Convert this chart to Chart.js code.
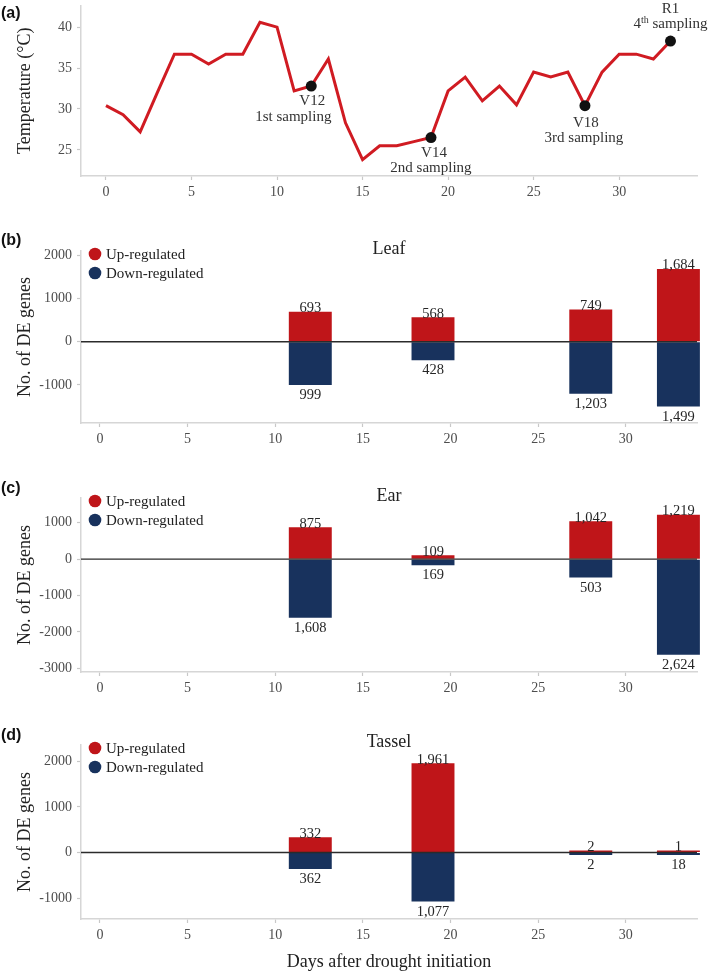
<!DOCTYPE html>
<html>
<head>
<meta charset="utf-8">
<title>Temperature and DE genes after drought initiation</title>
<script src="https://cdn.jsdelivr.net/npm/chart.js@4.4.1/dist/chart.umd.min.js"></script>
<style>
  html, body { margin: 0; padding: 0; background: #fff; }
  body { position: relative; width: 709px; height: 973px; overflow: hidden; }
  canvas { position: absolute; left: 0; }
  .tag { position: absolute; left: 1px; font: bold 16px "Liberation Sans", Arial, sans-serif; color: #111; line-height: 18px; }
</style>
</head>
<body>
<canvas id="tempChart" width="709" height="202" style="top:0px"></canvas>
<canvas id="leafChart" width="709" height="232" style="top:228px"></canvas>
<canvas id="earChart" width="709" height="240" style="top:460px"></canvas>
<canvas id="tasselChart" width="709" height="273" style="top:700px"></canvas>
<div class="tag" style="top:4px">(a)</div>
<div class="tag" style="top:231px">(b)</div>
<div class="tag" style="top:479px">(c)</div>
<div class="tag" style="top:726px">(d)</div>

<script>
// données
var days = [0, 1, 2, 3, 4, 5, 6, 7, 8, 9, 10, 11, 12, 13, 14, 15, 16, 17, 18, 19, 20, 21, 22, 23, 24, 25, 26, 27, 28, 29, 30, 31, 32, 33];
var temperature = [30.4, 29.3, 27.2, 32.0, 36.7, 36.7, 35.5, 36.7, 36.7, 40.6, 40.0, 32.2, 32.8, 36.1, 28.3, 23.8, 25.5, 25.5, 26.0, 26.5, 32.2, 33.9, 31.0, 32.8, 30.5, 34.5, 33.9, 34.5, 30.4, 34.5, 36.7, 36.7, 36.1, 38.3];
var samplingDays = [12, 19, 28, 33];
var stageNames = ['V12', 'V14', 'V18', 'R1'];
var samplingNames = ['1st sampling', '2nd sampling', '3rd sampling', '4th sampling'];

var seriesNames = ['Up-regulated', 'Down-regulated'];
var leafUp = [693, 568, 749, 1684];
var leafDown = [999, 428, 1203, 1499];
var earUp = [875, 109, 1042, 1219];
var earDown = [1608, 169, 503, 2624];
var tasselUp = [332, 1961, 2, 1];
var tasselDown = [362, 1077, 2, 18];

var dayTicks = [0, 5, 10, 15, 20, 25, 30];
var tempTicks = [25, 30, 35, 40];
var leafTicks = [-1000, 0, 1000, 2000];
var earTicks = [-3000, -2000, -1000, 0, 1000];
var tasselTicks = [-1000, 0, 1000, 2000];

// styles
var RED_LINE = '#d01b22';
var RED = '#bf1519';
var NAVY = '#18325d';
var AXIS = '#d6d6d6';
var SERIF = '"Liberation Serif", "Times New Roman", serif';

// position des étiquettes de prélèvement (décalages en px autour du point)
var sampleLabelOffsets = [
  {dx1: 1, dy1: 15, dx2: -18, dy2: 31},
  {dx1: 3, dy1: 15, dx2: 0, dy2: 30},
  {dx1: 1, dy1: 17, dx2: -1, dy2: 32},
  {dx1: 0, dy1: -32, dx2: 0, dy2: -17, sup: true}
];

Chart.defaults.font.family = SERIF;
Chart.defaults.color = '#333';

function xAxis(min, max, height, title, stacked) {
  return {
    type: 'linear',
    min: min,
    max: max,
    stacked: stacked,
    offset: false,
    afterBuildTicks: function (s) { s.ticks = dayTicks.map(function (v) { return {value: v}; }); },
    afterFit: function (s) { s.height = height; s.paddingLeft = 0; s.paddingRight = 0; },
    border: {display: true, color: AXIS, width: 1.5},
    grid: {offset: false, drawOnChartArea: false, drawTicks: true, tickLength: 4, tickColor: '#c8c8c8', tickWidth: 1.2},
    ticks: {font: {size: 14}, color: '#4d4d4d', padding: 4, maxRotation: 0, autoSkip: false},
    title: {display: !!title, text: title || '', font: {size: 18}, color: '#222', padding: {top: 0, bottom: 0}}
  };
}

function yAxis(min, max, tickValues, title, stacked) {
  return {
    min: min,
    max: max,
    stacked: stacked,
    afterBuildTicks: function (s) { s.ticks = tickValues.map(function (v) { return {value: v}; }); },
    afterFit: function (s) { s.width = 81; s.paddingTop = 0; s.paddingBottom = 0; },
    border: {display: true, color: AXIS, width: 1.5},
    grid: {drawOnChartArea: false, drawTicks: true, tickLength: 4, tickColor: '#c8c8c8', tickWidth: 1.2},
    ticks: {font: {size: 14}, color: '#4d4d4d', padding: 5, callback: function (v) { return String(v); }},
    title: {display: true, text: title, font: {size: 18}, color: '#222', padding: {top: 14, bottom: 0}}
  };
}

// étiquettes V12 / 1st sampling etc.
var samplingLabelPlugin = {
  id: 'samplingLabels',
  afterDatasetsDraw: function (chart) {
    var ctx = chart.ctx;
    var meta = chart.getDatasetMeta(1);
    ctx.save();
    ctx.fillStyle = '#333';
    ctx.textBaseline = 'middle';
    meta.data.forEach(function (pt, i) {
      var off = sampleLabelOffsets[i];
      ctx.font = '15px ' + SERIF;
      ctx.textAlign = 'center';
      ctx.fillText(stageNames[i], pt.x + off.dx1, pt.y + off.dy1);
      var cx = pt.x + off.dx2, cy = pt.y + off.dy2;
      var m = samplingNames[i].match(/^(\d+)(st|nd|rd|th)( .*)$/);
      if (off.sup && m) {
        ctx.font = '15px ' + SERIF;
        var w1 = ctx.measureText(m[1]).width;
        var w3 = ctx.measureText(m[3]).width;
        ctx.font = '10px ' + SERIF;
        var w2 = ctx.measureText(m[2]).width;
        var x0 = cx - (w1 + w2 + w3) / 2;
        ctx.textAlign = 'left';
        ctx.font = '15px ' + SERIF;
        ctx.fillText(m[1], x0, cy);
        ctx.font = '10px ' + SERIF;
        ctx.fillText(m[2], x0 + w1, cy - 4);
        ctx.font = '15px ' + SERIF;
        ctx.fillText(m[3], x0 + w1 + w2, cy);
      } else {
        ctx.fillText(samplingNames[i], cx, cy);
      }
    });
    ctx.restore();
  }
};

new Chart(document.getElementById('tempChart'), {
  type: 'line',
  data: {
    datasets: [{
      label: 'Temperature',
      data: days.map(function (d, i) { return {x: d, y: temperature[i]}; }),
      borderColor: RED_LINE,
      borderWidth: 3,
      pointRadius: 0,
      tension: 0,
      order: 2
    }, {
      label: 'Sampling',
      data: samplingDays.map(function (d) { return {x: d, y: temperature[days.indexOf(d)]}; }),
      showLine: false,
      pointRadius: 5.5,
      pointBackgroundColor: '#111',
      pointBorderColor: '#111',
      pointBorderWidth: 0,
      order: 1
    }]
  },
  options: {
    responsive: false,
    animation: false,
    events: [],
    layout: {padding: {top: 3, right: 12, left: 0, bottom: 0}},
    scales: {
      x: xAxis(-1.46, 34.55, 26, null, false),
      y: yAxis(21.8, 42.65, tempTicks, 'Temperature (°C)', false)
    },
    plugins: {legend: {display: false}, tooltip: {enabled: false}}
  },
  plugins: [samplingLabelPlugin]
});

// ligne du zéro, tracée par-dessus les barres
var zeroLinePlugin = {
  id: 'zeroLine',
  afterDatasetsDraw: function (chart) {
    var ctx = chart.ctx, a = chart.chartArea;
    var y = chart.scales.y.getPixelForValue(0);
    ctx.save();
    ctx.strokeStyle = '#2b2b2b';
    ctx.lineWidth = 1.4;
    ctx.beginPath();
    ctx.moveTo(a.left, y);
    ctx.lineTo(a.right, y);
    ctx.stroke();
    ctx.restore();
  }
};

// nombre de gènes au-dessus / au-dessous des barres
var valueLabelPlugin = {
  id: 'valueLabels',
  afterDatasetsDraw: function (chart) {
    var ctx = chart.ctx;
    ctx.save();
    ctx.font = '14.5px ' + SERIF;
    ctx.fillStyle = '#262626';
    ctx.textAlign = 'center';
    chart.data.datasets.forEach(function (ds, i) {
      chart.getDatasetMeta(i).data.forEach(function (bar, j) {
        var v = ds.data[j].y;
        var txt = Math.abs(v).toLocaleString('en-US');
        if (v >= 0) {
          ctx.textBaseline = 'alphabetic';
          ctx.fillText(txt, bar.x, bar.y + 0.5);
        } else {
          ctx.textBaseline = 'top';
          ctx.fillText(txt, bar.x, bar.y + 3);
        }
      });
    });
    ctx.restore();
  }
};

// légende dans le coin haut gauche du panneau
var cornerLegendPlugin = {
  id: 'cornerLegend',
  afterDraw: function (chart) {
    var ctx = chart.ctx, a = chart.chartArea;
    ctx.save();
    chart.data.datasets.forEach(function (ds, i) {
      var cy = a.top + 3 + i * 19;
      ctx.fillStyle = ds.backgroundColor;
      ctx.beginPath();
      ctx.arc(a.left + 14, cy, 6.3, 0, Math.PI * 2);
      ctx.fill();
      ctx.fillStyle = '#222';
      ctx.font = '15px ' + SERIF;
      ctx.textAlign = 'left';
      ctx.textBaseline = 'middle';
      ctx.fillText(ds.label, a.left + 25, cy + 1);
    });
    ctx.restore();
  }
};

var panelTitlePlugin = {
  id: 'panelTitle',
  afterDraw: function (chart, args, opts) {
    var ctx = chart.ctx, a = chart.chartArea;
    ctx.save();
    ctx.font = '18px ' + SERIF;
    ctx.fillStyle = '#222';
    ctx.textAlign = 'center';
    ctx.textBaseline = 'middle';
    ctx.fillText(opts.text, (a.left + a.right) / 2, a.top + opts.dy);
    ctx.restore();
  }
};

function makeGeneChart(id, up, down, yMin, yMax, yTicks, title, padTop, xHeight, xTitle, titleDy) {
  return new Chart(document.getElementById(id), {
    type: 'bar',
    data: {
      datasets: [{
        label: seriesNames[0],
        data: samplingDays.map(function (d, i) { return {x: d, y: up[i]}; }),
        backgroundColor: RED,
        minBarLength: 2,
        categoryPercentage: 0.49,
        barPercentage: 1,
        clip: false
      }, {
        label: seriesNames[1],
        data: samplingDays.map(function (d, i) { return {x: d, y: -down[i]}; }),
        backgroundColor: NAVY,
        minBarLength: 2.5,
        categoryPercentage: 0.49,
        barPercentage: 1,
        clip: false
      }]
    },
    options: {
      responsive: false,
      animation: false,
      events: [],
      layout: {padding: {top: padTop, right: 12, left: 0, bottom: 0}},
      scales: {
        x: xAxis(-1.08, 34.06, xHeight, xTitle, true),
        y: yAxis(yMin, yMax, yTicks, 'No. of DE genes', true)
      },
      plugins: {
        legend: {display: false},
        tooltip: {enabled: false},
        panelTitle: {text: title, dy: titleDy}
      }
    },
    plugins: [zeroLinePlugin, valueLabelPlugin, cornerLegendPlugin, panelTitlePlugin]
  });
}

makeGeneChart('leafChart', leafUp, leafDown, -1880, 2100, leafTicks, 'Leaf', 23, 37, null, -2);
makeGeneChart('earChart', earUp, earDown, -3100, 1680, earTicks, 'Ear', 38, 28, null, -1.5);
makeGeneChart('tasselChart', tasselUp, tasselDown, -1460, 2360, tasselTicks, 'Tassel', 45, 54, 'Days after drought initiation', -3);
</script>
</body>
</html>
